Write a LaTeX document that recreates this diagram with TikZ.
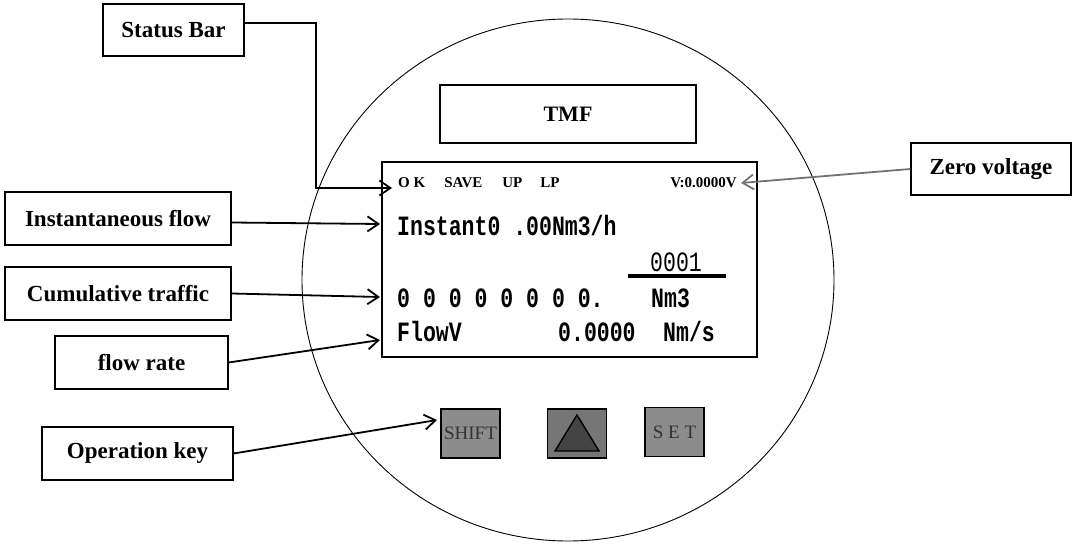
\documentclass[tikz,border=0pt]{standalone}
\usepackage{fontspec}
\setmainfont{Liberation Serif}
\newfontfamily\lcdfont{Liberation Mono}
\usetikzlibrary{arrows.meta}

\definecolor{keygray}{RGB}{140,140,140}
\definecolor{upgray}{RGB}{118,118,118}
\definecolor{trigray}{RGB}{68,68,68}
\newcommand\lcd[1]{\scalebox{1}[1.3]{\fontsize{21.5}{24}\lcdfont\bfseries #1}}
\newcommand\lcdthin[1]{\scalebox{1}[1.3]{\fontsize{21.5}{24}\lcdfont #1}}

\begin{document}
\begin{tikzpicture}[
        x=1pt, y=-1pt,
        >={Straight Barb[length=11pt,width=15pt]},
        callout/.style={draw, line width=1.3pt, inner sep=0pt,
                font=\fontsize{23}{26}\selectfont\bfseries},
        arr/.style={->, line width=1.8pt},
        keybox/.style={draw, line width=1.4pt, fill=keygray, inner sep=0pt,
                minimum width=59pt, minimum height=49pt,
                font=\fontsize{19}{22}\selectfont, text=black!80},
        lcdtext/.style={anchor=west, inner sep=0pt}
    ]
    \useasboundingbox (0,0) rectangle (1074,545);

    % meter face
    \draw[line width=0.9pt] (568,280) ellipse [x radius=266, y radius=261];

    \node[callout, minimum width=141pt, minimum height=52pt] (status) at (173.5,30) {Status Bar};
    \node[callout, minimum width=256pt, minimum height=58pt,
          font=\fontsize{22}{26}\selectfont\bfseries] (tmf) at (568,114) {TMF};
    \node[callout, minimum width=226pt, minimum height=53pt] (instflow) at (118,218.5) {Instantaneous flow};
    \node[callout, minimum width=226pt, minimum height=53pt] (cumul) at (118,293.5) {Cumulative traffic};
    \node[callout, minimum width=173pt, minimum height=53pt] (flowrate) at (141.5,362.5) {flow rate};
    \node[callout, minimum width=191pt, minimum height=53pt] (opkey) at (137.5,453.5) {Operation key};
    \node[callout, minimum width=160pt, minimum height=52pt] (zerov) at (991,169) {Zero voltage};

    % display
    \node[draw, line width=1.3pt, inner sep=0pt,
          minimum width=375pt, minimum height=195pt] (lcd) at (569.5,259.5) {};
    \node[lcdtext, font=\fontsize{15}{18}\selectfont\bfseries] (stline) at (398,183)
        {O K\hspace{19pt}SAVE\hspace{20pt}UP\hspace{18pt}LP};
    \node[anchor=east, inner sep=0pt, font=\fontsize{15}{18}\selectfont\bfseries] (volt) at (737,183) {V:0.0000V};
    \node[lcdtext] (instant) at (397,226) {\lcd{Instant0 .00Nm3/h}};
    \node[lcdtext] (count) at (650,262) {\lcdthin{0001}};
    \draw[line width=4pt] (628,276) -- (726,276);
    \node[lcdtext] (total) at (397,298) {\lcd{0 0 0 0 0 0 0 0.}};
    \node[lcdtext] (unit) at (651,298) {\lcd{Nm3}};
    \node[lcdtext] (flowv) at (397,332) {\lcd{FlowV}};
    \node[lcdtext] (speed) at (558,332) {\lcd{0.0000}};
    \node[lcdtext] (speedunit) at (663,332) {\lcd{Nm/s}};

    % keys
    \node[keybox] (shift) at (470.5,433.5) {SHIFT};
    \node[keybox, fill=upgray] (up) at (577,433.5) {};
    \draw[line width=1.4pt, fill=trigray] (577,415) -- (555,451) -- (599,451) -- cycle;
    \node[keybox] (set) at (674.5,432) {S E T};

    % arrow ends
    \coordinate (sbknee) at (316,188);
    \coordinate (sbtip) at (392,188);
    \coordinate (insttip) at (380,224);
    \coordinate (cumtip) at (380,297);
    \coordinate (ratetip) at (380,340);
    \coordinate (keytip) at (437,420);
    \coordinate (volttip) at (741,183);

    \draw[arr] ([yshift=7pt]status.east) -| (sbknee) -- (sbtip);
    \draw[arr] ([yshift=-4pt]instflow.east) -- (insttip);
    \draw[arr] (cumul.east) -- (cumtip);
    \draw[arr] (flowrate.east) -- (ratetip);
    \draw[arr] (opkey.east) -- (keytip);
    \draw[arr, draw=black!55] (zerov.west) -- (volttip);
\end{tikzpicture}
\end{document}
